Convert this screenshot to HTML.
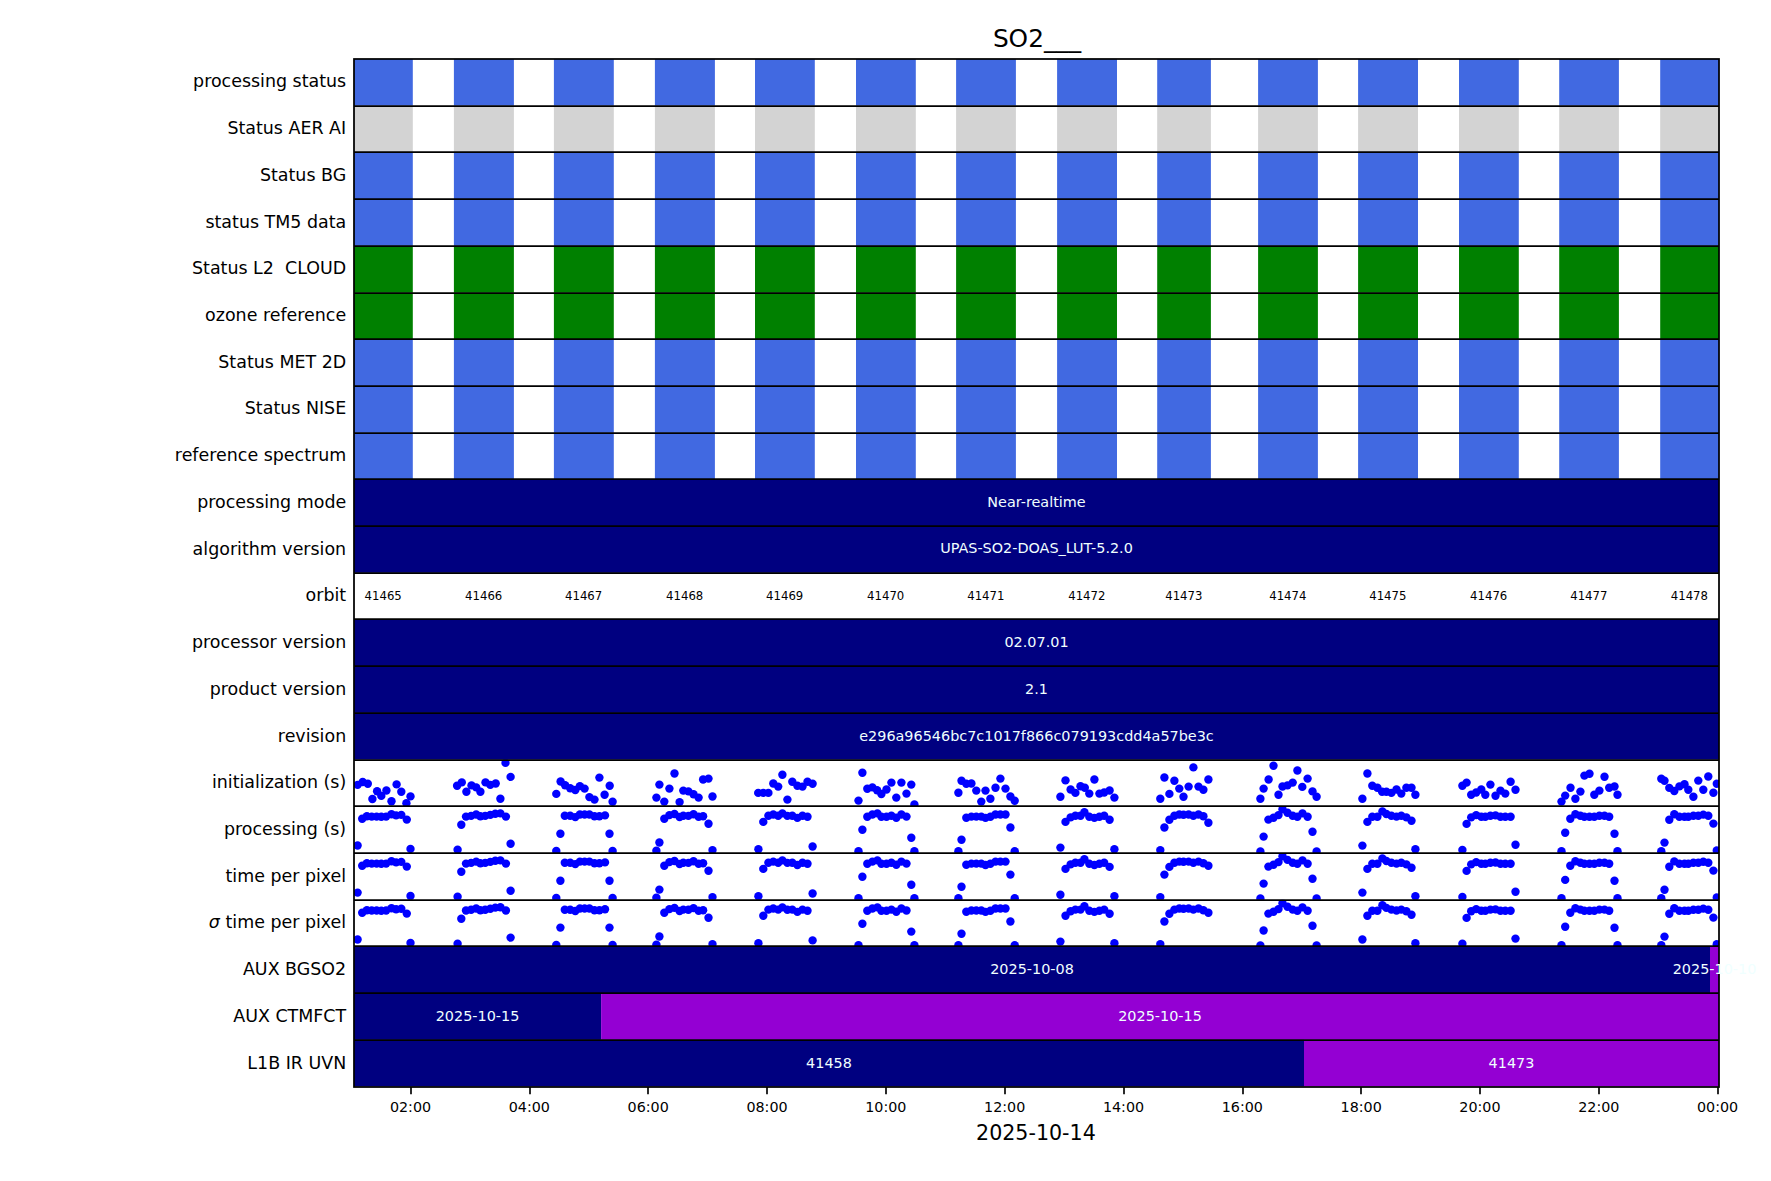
<!DOCTYPE html>
<html lang="en"><head><meta charset="utf-8"><title>SO2___</title>
<style>html,body{margin:0;padding:0;background:#fff}body{width:1771px;height:1181px;overflow:hidden}svg{display:block}text{font-family:"DejaVu Sans","Liberation Sans",sans-serif;}</style></head><body>
<svg width="1771" height="1181" viewBox="0 0 1771 1181">
<rect width="1771" height="1181" fill="#fff"/>
<defs>
<clipPath id="c15"><rect x="354.00" y="759.60" width="1365.00" height="46.70"/></clipPath>
<clipPath id="c16"><rect x="354.00" y="806.30" width="1365.00" height="46.70"/></clipPath>
<clipPath id="c17"><rect x="354.00" y="853.00" width="1365.00" height="46.70"/></clipPath>
<clipPath id="c18"><rect x="354.00" y="899.71" width="1365.00" height="46.70"/></clipPath>
</defs>
<g fill="#4169e1">
<rect x="354.00" y="59.05" width="58.80" height="46.70"/>
<rect x="453.90" y="59.05" width="60.00" height="46.70"/>
<rect x="553.90" y="59.05" width="59.90" height="46.70"/>
<rect x="654.90" y="59.05" width="60.00" height="46.70"/>
<rect x="755.00" y="59.05" width="59.80" height="46.70"/>
<rect x="856.00" y="59.05" width="59.80" height="46.70"/>
<rect x="956.10" y="59.05" width="59.80" height="46.70"/>
<rect x="1057.10" y="59.05" width="59.90" height="46.70"/>
<rect x="1157.20" y="59.05" width="53.70" height="46.70"/>
<rect x="1258.10" y="59.05" width="59.80" height="46.70"/>
<rect x="1358.10" y="59.05" width="59.90" height="46.70"/>
<rect x="1459.00" y="59.05" width="59.80" height="46.70"/>
<rect x="1559.20" y="59.05" width="59.70" height="46.70"/>
<rect x="1660.20" y="59.05" width="58.80" height="46.70"/>
</g>
<g fill="#d3d3d3">
<rect x="354.00" y="105.75" width="58.80" height="46.70"/>
<rect x="453.90" y="105.75" width="60.00" height="46.70"/>
<rect x="553.90" y="105.75" width="59.90" height="46.70"/>
<rect x="654.90" y="105.75" width="60.00" height="46.70"/>
<rect x="755.00" y="105.75" width="59.80" height="46.70"/>
<rect x="856.00" y="105.75" width="59.80" height="46.70"/>
<rect x="956.10" y="105.75" width="59.80" height="46.70"/>
<rect x="1057.10" y="105.75" width="59.90" height="46.70"/>
<rect x="1157.20" y="105.75" width="53.70" height="46.70"/>
<rect x="1258.10" y="105.75" width="59.80" height="46.70"/>
<rect x="1358.10" y="105.75" width="59.90" height="46.70"/>
<rect x="1459.00" y="105.75" width="59.80" height="46.70"/>
<rect x="1559.20" y="105.75" width="59.70" height="46.70"/>
<rect x="1660.20" y="105.75" width="58.80" height="46.70"/>
</g>
<g fill="#4169e1">
<rect x="354.00" y="152.46" width="58.80" height="46.70"/>
<rect x="453.90" y="152.46" width="60.00" height="46.70"/>
<rect x="553.90" y="152.46" width="59.90" height="46.70"/>
<rect x="654.90" y="152.46" width="60.00" height="46.70"/>
<rect x="755.00" y="152.46" width="59.80" height="46.70"/>
<rect x="856.00" y="152.46" width="59.80" height="46.70"/>
<rect x="956.10" y="152.46" width="59.80" height="46.70"/>
<rect x="1057.10" y="152.46" width="59.90" height="46.70"/>
<rect x="1157.20" y="152.46" width="53.70" height="46.70"/>
<rect x="1258.10" y="152.46" width="59.80" height="46.70"/>
<rect x="1358.10" y="152.46" width="59.90" height="46.70"/>
<rect x="1459.00" y="152.46" width="59.80" height="46.70"/>
<rect x="1559.20" y="152.46" width="59.70" height="46.70"/>
<rect x="1660.20" y="152.46" width="58.80" height="46.70"/>
</g>
<g fill="#4169e1">
<rect x="354.00" y="199.16" width="58.80" height="46.70"/>
<rect x="453.90" y="199.16" width="60.00" height="46.70"/>
<rect x="553.90" y="199.16" width="59.90" height="46.70"/>
<rect x="654.90" y="199.16" width="60.00" height="46.70"/>
<rect x="755.00" y="199.16" width="59.80" height="46.70"/>
<rect x="856.00" y="199.16" width="59.80" height="46.70"/>
<rect x="956.10" y="199.16" width="59.80" height="46.70"/>
<rect x="1057.10" y="199.16" width="59.90" height="46.70"/>
<rect x="1157.20" y="199.16" width="53.70" height="46.70"/>
<rect x="1258.10" y="199.16" width="59.80" height="46.70"/>
<rect x="1358.10" y="199.16" width="59.90" height="46.70"/>
<rect x="1459.00" y="199.16" width="59.80" height="46.70"/>
<rect x="1559.20" y="199.16" width="59.70" height="46.70"/>
<rect x="1660.20" y="199.16" width="58.80" height="46.70"/>
</g>
<g fill="#008000">
<rect x="354.00" y="245.86" width="58.80" height="46.70"/>
<rect x="453.90" y="245.86" width="60.00" height="46.70"/>
<rect x="553.90" y="245.86" width="59.90" height="46.70"/>
<rect x="654.90" y="245.86" width="60.00" height="46.70"/>
<rect x="755.00" y="245.86" width="59.80" height="46.70"/>
<rect x="856.00" y="245.86" width="59.80" height="46.70"/>
<rect x="956.10" y="245.86" width="59.80" height="46.70"/>
<rect x="1057.10" y="245.86" width="59.90" height="46.70"/>
<rect x="1157.20" y="245.86" width="53.70" height="46.70"/>
<rect x="1258.10" y="245.86" width="59.80" height="46.70"/>
<rect x="1358.10" y="245.86" width="59.90" height="46.70"/>
<rect x="1459.00" y="245.86" width="59.80" height="46.70"/>
<rect x="1559.20" y="245.86" width="59.70" height="46.70"/>
<rect x="1660.20" y="245.86" width="58.80" height="46.70"/>
</g>
<g fill="#008000">
<rect x="354.00" y="292.57" width="58.80" height="46.70"/>
<rect x="453.90" y="292.57" width="60.00" height="46.70"/>
<rect x="553.90" y="292.57" width="59.90" height="46.70"/>
<rect x="654.90" y="292.57" width="60.00" height="46.70"/>
<rect x="755.00" y="292.57" width="59.80" height="46.70"/>
<rect x="856.00" y="292.57" width="59.80" height="46.70"/>
<rect x="956.10" y="292.57" width="59.80" height="46.70"/>
<rect x="1057.10" y="292.57" width="59.90" height="46.70"/>
<rect x="1157.20" y="292.57" width="53.70" height="46.70"/>
<rect x="1258.10" y="292.57" width="59.80" height="46.70"/>
<rect x="1358.10" y="292.57" width="59.90" height="46.70"/>
<rect x="1459.00" y="292.57" width="59.80" height="46.70"/>
<rect x="1559.20" y="292.57" width="59.70" height="46.70"/>
<rect x="1660.20" y="292.57" width="58.80" height="46.70"/>
</g>
<g fill="#4169e1">
<rect x="354.00" y="339.27" width="58.80" height="46.70"/>
<rect x="453.90" y="339.27" width="60.00" height="46.70"/>
<rect x="553.90" y="339.27" width="59.90" height="46.70"/>
<rect x="654.90" y="339.27" width="60.00" height="46.70"/>
<rect x="755.00" y="339.27" width="59.80" height="46.70"/>
<rect x="856.00" y="339.27" width="59.80" height="46.70"/>
<rect x="956.10" y="339.27" width="59.80" height="46.70"/>
<rect x="1057.10" y="339.27" width="59.90" height="46.70"/>
<rect x="1157.20" y="339.27" width="53.70" height="46.70"/>
<rect x="1258.10" y="339.27" width="59.80" height="46.70"/>
<rect x="1358.10" y="339.27" width="59.90" height="46.70"/>
<rect x="1459.00" y="339.27" width="59.80" height="46.70"/>
<rect x="1559.20" y="339.27" width="59.70" height="46.70"/>
<rect x="1660.20" y="339.27" width="58.80" height="46.70"/>
</g>
<g fill="#4169e1">
<rect x="354.00" y="385.97" width="58.80" height="46.70"/>
<rect x="453.90" y="385.97" width="60.00" height="46.70"/>
<rect x="553.90" y="385.97" width="59.90" height="46.70"/>
<rect x="654.90" y="385.97" width="60.00" height="46.70"/>
<rect x="755.00" y="385.97" width="59.80" height="46.70"/>
<rect x="856.00" y="385.97" width="59.80" height="46.70"/>
<rect x="956.10" y="385.97" width="59.80" height="46.70"/>
<rect x="1057.10" y="385.97" width="59.90" height="46.70"/>
<rect x="1157.20" y="385.97" width="53.70" height="46.70"/>
<rect x="1258.10" y="385.97" width="59.80" height="46.70"/>
<rect x="1358.10" y="385.97" width="59.90" height="46.70"/>
<rect x="1459.00" y="385.97" width="59.80" height="46.70"/>
<rect x="1559.20" y="385.97" width="59.70" height="46.70"/>
<rect x="1660.20" y="385.97" width="58.80" height="46.70"/>
</g>
<g fill="#4169e1">
<rect x="354.00" y="432.68" width="58.80" height="46.70"/>
<rect x="453.90" y="432.68" width="60.00" height="46.70"/>
<rect x="553.90" y="432.68" width="59.90" height="46.70"/>
<rect x="654.90" y="432.68" width="60.00" height="46.70"/>
<rect x="755.00" y="432.68" width="59.80" height="46.70"/>
<rect x="856.00" y="432.68" width="59.80" height="46.70"/>
<rect x="956.10" y="432.68" width="59.80" height="46.70"/>
<rect x="1057.10" y="432.68" width="59.90" height="46.70"/>
<rect x="1157.20" y="432.68" width="53.70" height="46.70"/>
<rect x="1258.10" y="432.68" width="59.80" height="46.70"/>
<rect x="1358.10" y="432.68" width="59.90" height="46.70"/>
<rect x="1459.00" y="432.68" width="59.80" height="46.70"/>
<rect x="1559.20" y="432.68" width="59.70" height="46.70"/>
<rect x="1660.20" y="432.68" width="58.80" height="46.70"/>
</g>
<rect x="354.00" y="479.38" width="1365.00" height="46.70" fill="#000080"/>
<rect x="354.00" y="526.08" width="1365.00" height="46.70" fill="#000080"/>
<rect x="354.00" y="619.49" width="1365.00" height="46.70" fill="#000080"/>
<rect x="354.00" y="666.19" width="1365.00" height="46.70" fill="#000080"/>
<rect x="354.00" y="712.89" width="1365.00" height="46.70" fill="#000080"/>
<rect x="354.00" y="946.41" width="1356.00" height="46.70" fill="#000080"/>
<rect x="1710.00" y="946.41" width="9.00" height="46.70" fill="#9400d3"/>
<rect x="354.00" y="993.11" width="247.10" height="46.70" fill="#000080"/>
<rect x="601.10" y="993.11" width="1117.90" height="46.70" fill="#9400d3"/>
<rect x="354.00" y="1039.82" width="950.00" height="46.70" fill="#000080"/>
<rect x="1304.00" y="1039.82" width="415.00" height="46.70" fill="#9400d3"/>
<g fill="#0000ff" clip-path="url(#c15)">
<circle cx="357.6" cy="784.9" r="4.2"/>
<circle cx="362.7" cy="782.0" r="4.2"/>
<circle cx="367.8" cy="783.7" r="4.2"/>
<circle cx="372.4" cy="799.0" r="4.2"/>
<circle cx="377.1" cy="791.3" r="4.2"/>
<circle cx="381.3" cy="795.9" r="4.2"/>
<circle cx="386.4" cy="790.5" r="4.2"/>
<circle cx="391.5" cy="801.3" r="4.2"/>
<circle cx="396.6" cy="784.4" r="4.2"/>
<circle cx="401.3" cy="791.7" r="4.2"/>
<circle cx="406.4" cy="803.2" r="4.2"/>
<circle cx="410.5" cy="796.4" r="4.2"/>
<circle cx="457.1" cy="785.7" r="4.2"/>
<circle cx="461.8" cy="782.4" r="4.2"/>
<circle cx="466.4" cy="791.7" r="4.2"/>
<circle cx="471.5" cy="785.4" r="4.2"/>
<circle cx="476.2" cy="787.4" r="4.2"/>
<circle cx="480.4" cy="791.7" r="4.2"/>
<circle cx="485.5" cy="782.4" r="4.2"/>
<circle cx="490.3" cy="784.9" r="4.2"/>
<circle cx="495.7" cy="783.5" r="4.2"/>
<circle cx="500.4" cy="798.8" r="4.2"/>
<circle cx="505.5" cy="762.9" r="4.2"/>
<circle cx="510.6" cy="776.9" r="4.2"/>
<circle cx="556.3" cy="793.9" r="4.2"/>
<circle cx="560.6" cy="781.5" r="4.2"/>
<circle cx="565.1" cy="785.2" r="4.2"/>
<circle cx="570.2" cy="788.3" r="4.2"/>
<circle cx="575.3" cy="790.0" r="4.2"/>
<circle cx="579.9" cy="786.1" r="4.2"/>
<circle cx="584.6" cy="788.6" r="4.2"/>
<circle cx="589.4" cy="797.1" r="4.2"/>
<circle cx="594.5" cy="799.6" r="4.2"/>
<circle cx="599.4" cy="777.6" r="4.2"/>
<circle cx="604.6" cy="794.7" r="4.2"/>
<circle cx="609.7" cy="785.7" r="4.2"/>
<circle cx="612.6" cy="801.8" r="4.2"/>
<circle cx="656.4" cy="797.6" r="4.2"/>
<circle cx="659.4" cy="784.6" r="4.2"/>
<circle cx="664.3" cy="801.6" r="4.2"/>
<circle cx="669.4" cy="788.6" r="4.2"/>
<circle cx="674.5" cy="773.5" r="4.2"/>
<circle cx="679.6" cy="802.1" r="4.2"/>
<circle cx="683.3" cy="790.6" r="4.2"/>
<circle cx="688.4" cy="791.4" r="4.2"/>
<circle cx="693.5" cy="794.2" r="4.2"/>
<circle cx="698.6" cy="797.6" r="4.2"/>
<circle cx="703.1" cy="779.5" r="4.2"/>
<circle cx="708.5" cy="778.6" r="4.2"/>
<circle cx="712.5" cy="796.5" r="4.2"/>
<circle cx="758.2" cy="792.9" r="4.2"/>
<circle cx="763.3" cy="792.9" r="4.2"/>
<circle cx="768.4" cy="792.9" r="4.2"/>
<circle cx="773.3" cy="783.5" r="4.2"/>
<circle cx="778.2" cy="786.6" r="4.2"/>
<circle cx="782.4" cy="774.7" r="4.2"/>
<circle cx="787.4" cy="799.6" r="4.2"/>
<circle cx="792.3" cy="781.8" r="4.2"/>
<circle cx="797.4" cy="785.7" r="4.2"/>
<circle cx="802.5" cy="786.6" r="4.2"/>
<circle cx="807.5" cy="781.8" r="4.2"/>
<circle cx="812.6" cy="783.7" r="4.2"/>
<circle cx="858.5" cy="800.6" r="4.2"/>
<circle cx="862.4" cy="772.8" r="4.2"/>
<circle cx="867.3" cy="788.8" r="4.2"/>
<circle cx="872.4" cy="787.4" r="4.2"/>
<circle cx="877.1" cy="790.3" r="4.2"/>
<circle cx="881.4" cy="794.0" r="4.2"/>
<circle cx="886.5" cy="789.5" r="4.2"/>
<circle cx="891.4" cy="782.6" r="4.2"/>
<circle cx="896.3" cy="797.6" r="4.2"/>
<circle cx="901.4" cy="782.6" r="4.2"/>
<circle cx="906.5" cy="793.6" r="4.2"/>
<circle cx="911.3" cy="784.6" r="4.2"/>
<circle cx="914.4" cy="804.4" r="4.2"/>
<circle cx="958.4" cy="792.7" r="4.2"/>
<circle cx="961.5" cy="780.7" r="4.2"/>
<circle cx="966.3" cy="783.8" r="4.2"/>
<circle cx="971.4" cy="783.5" r="4.2"/>
<circle cx="976.3" cy="790.6" r="4.2"/>
<circle cx="981.3" cy="801.6" r="4.2"/>
<circle cx="985.5" cy="790.6" r="4.2"/>
<circle cx="990.4" cy="798.7" r="4.2"/>
<circle cx="995.5" cy="787.8" r="4.2"/>
<circle cx="1000.4" cy="778.6" r="4.2"/>
<circle cx="1005.5" cy="788.6" r="4.2"/>
<circle cx="1010.4" cy="796.5" r="4.2"/>
<circle cx="1014.7" cy="800.8" r="4.2"/>
<circle cx="1060.4" cy="796.7" r="4.2"/>
<circle cx="1065.5" cy="780.4" r="4.2"/>
<circle cx="1070.6" cy="789.5" r="4.2"/>
<circle cx="1075.4" cy="792.9" r="4.2"/>
<circle cx="1080.5" cy="786.3" r="4.2"/>
<circle cx="1084.8" cy="787.7" r="4.2"/>
<circle cx="1089.3" cy="793.6" r="4.2"/>
<circle cx="1094.4" cy="779.5" r="4.2"/>
<circle cx="1099.4" cy="793.6" r="4.2"/>
<circle cx="1104.2" cy="792.5" r="4.2"/>
<circle cx="1109.6" cy="790.5" r="4.2"/>
<circle cx="1114.4" cy="797.6" r="4.2"/>
<circle cx="1160.3" cy="798.7" r="4.2"/>
<circle cx="1164.4" cy="777.5" r="4.2"/>
<circle cx="1169.4" cy="793.9" r="4.2"/>
<circle cx="1174.4" cy="780.7" r="4.2"/>
<circle cx="1179.3" cy="788.6" r="4.2"/>
<circle cx="1183.5" cy="796.7" r="4.2"/>
<circle cx="1188.6" cy="786.6" r="4.2"/>
<circle cx="1193.4" cy="767.4" r="4.2"/>
<circle cx="1198.5" cy="786.6" r="4.2"/>
<circle cx="1203.4" cy="789.7" r="4.2"/>
<circle cx="1208.4" cy="779.5" r="4.2"/>
<circle cx="1260.4" cy="798.7" r="4.2"/>
<circle cx="1263.6" cy="788.6" r="4.2"/>
<circle cx="1268.6" cy="779.5" r="4.2"/>
<circle cx="1273.5" cy="765.8" r="4.2"/>
<circle cx="1278.5" cy="794.8" r="4.2"/>
<circle cx="1282.5" cy="786.5" r="4.2"/>
<circle cx="1287.5" cy="785.4" r="4.2"/>
<circle cx="1292.7" cy="782.6" r="4.2"/>
<circle cx="1297.4" cy="770.5" r="4.2"/>
<circle cx="1302.3" cy="786.9" r="4.2"/>
<circle cx="1307.6" cy="778.6" r="4.2"/>
<circle cx="1312.5" cy="791.4" r="4.2"/>
<circle cx="1316.6" cy="796.7" r="4.2"/>
<circle cx="1362.4" cy="798.7" r="4.2"/>
<circle cx="1367.4" cy="773.5" r="4.2"/>
<circle cx="1372.3" cy="785.7" r="4.2"/>
<circle cx="1377.4" cy="787.7" r="4.2"/>
<circle cx="1382.1" cy="791.7" r="4.2"/>
<circle cx="1386.4" cy="791.7" r="4.2"/>
<circle cx="1391.4" cy="792.9" r="4.2"/>
<circle cx="1396.5" cy="789.5" r="4.2"/>
<circle cx="1401.3" cy="793.6" r="4.2"/>
<circle cx="1406.4" cy="787.7" r="4.2"/>
<circle cx="1411.5" cy="787.7" r="4.2"/>
<circle cx="1415.4" cy="794.8" r="4.2"/>
<circle cx="1462.4" cy="785.7" r="4.2"/>
<circle cx="1466.6" cy="782.6" r="4.2"/>
<circle cx="1471.2" cy="794.8" r="4.2"/>
<circle cx="1476.2" cy="792.5" r="4.2"/>
<circle cx="1481.3" cy="789.5" r="4.2"/>
<circle cx="1485.3" cy="794.8" r="4.2"/>
<circle cx="1490.4" cy="784.6" r="4.2"/>
<circle cx="1495.5" cy="795.7" r="4.2"/>
<circle cx="1500.5" cy="790.6" r="4.2"/>
<circle cx="1505.3" cy="793.6" r="4.2"/>
<circle cx="1510.6" cy="781.8" r="4.2"/>
<circle cx="1515.5" cy="789.7" r="4.2"/>
<circle cx="1561.5" cy="801.6" r="4.2"/>
<circle cx="1565.2" cy="795.6" r="4.2"/>
<circle cx="1570.5" cy="787.7" r="4.2"/>
<circle cx="1575.4" cy="798.7" r="4.2"/>
<circle cx="1580.4" cy="791.6" r="4.2"/>
<circle cx="1584.4" cy="775.6" r="4.2"/>
<circle cx="1589.5" cy="773.7" r="4.2"/>
<circle cx="1594.3" cy="794.8" r="4.2"/>
<circle cx="1599.4" cy="790.6" r="4.2"/>
<circle cx="1604.5" cy="776.7" r="4.2"/>
<circle cx="1609.2" cy="787.7" r="4.2"/>
<circle cx="1614.5" cy="786.5" r="4.2"/>
<circle cx="1617.5" cy="794.8" r="4.2"/>
<circle cx="1661.3" cy="778.7" r="4.2"/>
<circle cx="1664.5" cy="780.8" r="4.2"/>
<circle cx="1669.3" cy="787.9" r="4.2"/>
<circle cx="1674.3" cy="791.0" r="4.2"/>
<circle cx="1679.4" cy="786.4" r="4.2"/>
<circle cx="1684.5" cy="784.2" r="4.2"/>
<circle cx="1688.3" cy="789.7" r="4.2"/>
<circle cx="1693.4" cy="796.8" r="4.2"/>
<circle cx="1698.3" cy="780.6" r="4.2"/>
<circle cx="1703.3" cy="789.7" r="4.2"/>
<circle cx="1708.3" cy="776.5" r="4.2"/>
<circle cx="1713.4" cy="792.7" r="4.2"/>
<circle cx="1716.8" cy="783.7" r="4.2"/>
</g>
<g fill="#0000ff" clip-path="url(#c16)">
<circle cx="357.6" cy="845.5" r="4.2"/>
<circle cx="362.2" cy="818.8" r="4.2"/>
<circle cx="366.9" cy="816.2" r="4.2"/>
<circle cx="371.7" cy="816.6" r="4.2"/>
<circle cx="376.6" cy="816.6" r="4.2"/>
<circle cx="381.3" cy="816.7" r="4.2"/>
<circle cx="386.1" cy="816.6" r="4.2"/>
<circle cx="391.5" cy="814.2" r="4.2"/>
<circle cx="396.1" cy="815.4" r="4.2"/>
<circle cx="401.3" cy="814.9" r="4.2"/>
<circle cx="406.8" cy="819.6" r="4.2"/>
<circle cx="410.5" cy="848.9" r="4.2"/>
<circle cx="457.6" cy="849.8" r="4.2"/>
<circle cx="461.3" cy="824.7" r="4.2"/>
<circle cx="466.0" cy="816.6" r="4.2"/>
<circle cx="471.1" cy="815.9" r="4.2"/>
<circle cx="476.2" cy="814.5" r="4.2"/>
<circle cx="480.4" cy="816.2" r="4.2"/>
<circle cx="485.2" cy="815.9" r="4.2"/>
<circle cx="490.3" cy="814.9" r="4.2"/>
<circle cx="495.3" cy="813.7" r="4.2"/>
<circle cx="500.4" cy="813.4" r="4.2"/>
<circle cx="505.9" cy="816.6" r="4.2"/>
<circle cx="510.6" cy="843.7" r="4.2"/>
<circle cx="556.3" cy="851.0" r="4.2"/>
<circle cx="560.4" cy="833.7" r="4.2"/>
<circle cx="564.8" cy="815.7" r="4.2"/>
<circle cx="570.2" cy="815.7" r="4.2"/>
<circle cx="575.3" cy="817.1" r="4.2"/>
<circle cx="579.9" cy="814.5" r="4.2"/>
<circle cx="584.6" cy="814.5" r="4.2"/>
<circle cx="589.4" cy="814.5" r="4.2"/>
<circle cx="594.5" cy="816.2" r="4.2"/>
<circle cx="599.4" cy="816.2" r="4.2"/>
<circle cx="605.0" cy="815.4" r="4.2"/>
<circle cx="609.5" cy="833.7" r="4.2"/>
<circle cx="612.6" cy="851.0" r="4.2"/>
<circle cx="656.4" cy="850.7" r="4.2"/>
<circle cx="659.4" cy="842.5" r="4.2"/>
<circle cx="664.3" cy="818.7" r="4.2"/>
<circle cx="669.4" cy="815.1" r="4.2"/>
<circle cx="674.5" cy="814.0" r="4.2"/>
<circle cx="679.6" cy="817.0" r="4.2"/>
<circle cx="683.3" cy="815.7" r="4.2"/>
<circle cx="688.4" cy="815.9" r="4.2"/>
<circle cx="693.5" cy="814.2" r="4.2"/>
<circle cx="698.6" cy="816.8" r="4.2"/>
<circle cx="703.1" cy="816.2" r="4.2"/>
<circle cx="708.5" cy="823.8" r="4.2"/>
<circle cx="712.5" cy="850.1" r="4.2"/>
<circle cx="758.4" cy="849.3" r="4.2"/>
<circle cx="763.3" cy="821.9" r="4.2"/>
<circle cx="768.4" cy="815.7" r="4.2"/>
<circle cx="773.3" cy="814.5" r="4.2"/>
<circle cx="778.2" cy="815.7" r="4.2"/>
<circle cx="782.4" cy="813.4" r="4.2"/>
<circle cx="787.4" cy="815.9" r="4.2"/>
<circle cx="792.3" cy="815.7" r="4.2"/>
<circle cx="797.4" cy="817.9" r="4.2"/>
<circle cx="802.5" cy="815.7" r="4.2"/>
<circle cx="807.5" cy="816.8" r="4.2"/>
<circle cx="812.6" cy="846.5" r="4.2"/>
<circle cx="858.5" cy="851.2" r="4.2"/>
<circle cx="862.4" cy="829.8" r="4.2"/>
<circle cx="867.3" cy="816.8" r="4.2"/>
<circle cx="872.4" cy="814.5" r="4.2"/>
<circle cx="877.4" cy="813.4" r="4.2"/>
<circle cx="881.4" cy="816.8" r="4.2"/>
<circle cx="886.5" cy="816.8" r="4.2"/>
<circle cx="891.4" cy="815.7" r="4.2"/>
<circle cx="896.3" cy="817.7" r="4.2"/>
<circle cx="901.4" cy="814.5" r="4.2"/>
<circle cx="906.5" cy="816.6" r="4.2"/>
<circle cx="911.3" cy="837.7" r="4.2"/>
<circle cx="914.4" cy="851.2" r="4.2"/>
<circle cx="958.4" cy="851.2" r="4.2"/>
<circle cx="961.5" cy="839.7" r="4.2"/>
<circle cx="966.3" cy="817.7" r="4.2"/>
<circle cx="971.4" cy="816.6" r="4.2"/>
<circle cx="976.3" cy="816.6" r="4.2"/>
<circle cx="981.3" cy="816.6" r="4.2"/>
<circle cx="985.5" cy="817.9" r="4.2"/>
<circle cx="990.4" cy="816.8" r="4.2"/>
<circle cx="995.5" cy="814.5" r="4.2"/>
<circle cx="1000.4" cy="814.5" r="4.2"/>
<circle cx="1005.5" cy="814.5" r="4.2"/>
<circle cx="1010.4" cy="827.5" r="4.2"/>
<circle cx="1014.7" cy="851.2" r="4.2"/>
<circle cx="1060.4" cy="847.6" r="4.2"/>
<circle cx="1065.5" cy="821.9" r="4.2"/>
<circle cx="1070.6" cy="817.4" r="4.2"/>
<circle cx="1075.4" cy="815.7" r="4.2"/>
<circle cx="1080.5" cy="815.7" r="4.2"/>
<circle cx="1084.4" cy="812.3" r="4.2"/>
<circle cx="1089.3" cy="816.8" r="4.2"/>
<circle cx="1094.4" cy="817.9" r="4.2"/>
<circle cx="1099.4" cy="816.8" r="4.2"/>
<circle cx="1104.2" cy="815.7" r="4.2"/>
<circle cx="1109.6" cy="819.8" r="4.2"/>
<circle cx="1114.4" cy="849.3" r="4.2"/>
<circle cx="1160.3" cy="850.1" r="4.2"/>
<circle cx="1164.4" cy="827.5" r="4.2"/>
<circle cx="1169.4" cy="819.8" r="4.2"/>
<circle cx="1174.4" cy="815.7" r="4.2"/>
<circle cx="1179.3" cy="814.5" r="4.2"/>
<circle cx="1183.5" cy="814.8" r="4.2"/>
<circle cx="1188.6" cy="814.5" r="4.2"/>
<circle cx="1193.4" cy="815.7" r="4.2"/>
<circle cx="1198.5" cy="814.5" r="4.2"/>
<circle cx="1203.4" cy="816.2" r="4.2"/>
<circle cx="1208.4" cy="822.8" r="4.2"/>
<circle cx="1260.4" cy="851.5" r="4.2"/>
<circle cx="1263.6" cy="836.6" r="4.2"/>
<circle cx="1268.4" cy="819.6" r="4.2"/>
<circle cx="1273.5" cy="817.7" r="4.2"/>
<circle cx="1278.5" cy="815.1" r="4.2"/>
<circle cx="1282.5" cy="809.2" r="4.2"/>
<circle cx="1287.5" cy="812.8" r="4.2"/>
<circle cx="1292.7" cy="815.7" r="4.2"/>
<circle cx="1297.4" cy="816.8" r="4.2"/>
<circle cx="1302.5" cy="813.4" r="4.2"/>
<circle cx="1307.6" cy="816.8" r="4.2"/>
<circle cx="1312.5" cy="831.7" r="4.2"/>
<circle cx="1316.6" cy="851.5" r="4.2"/>
<circle cx="1362.4" cy="845.6" r="4.2"/>
<circle cx="1367.4" cy="821.9" r="4.2"/>
<circle cx="1372.3" cy="816.8" r="4.2"/>
<circle cx="1377.4" cy="816.8" r="4.2"/>
<circle cx="1382.4" cy="811.4" r="4.2"/>
<circle cx="1386.4" cy="814.0" r="4.2"/>
<circle cx="1391.4" cy="815.7" r="4.2"/>
<circle cx="1396.5" cy="816.6" r="4.2"/>
<circle cx="1401.3" cy="815.7" r="4.2"/>
<circle cx="1406.4" cy="817.4" r="4.2"/>
<circle cx="1411.5" cy="820.7" r="4.2"/>
<circle cx="1415.4" cy="849.3" r="4.2"/>
<circle cx="1462.4" cy="849.9" r="4.2"/>
<circle cx="1466.6" cy="823.9" r="4.2"/>
<circle cx="1471.2" cy="817.4" r="4.2"/>
<circle cx="1476.2" cy="815.1" r="4.2"/>
<circle cx="1481.3" cy="816.8" r="4.2"/>
<circle cx="1485.3" cy="816.8" r="4.2"/>
<circle cx="1490.4" cy="815.7" r="4.2"/>
<circle cx="1495.5" cy="815.4" r="4.2"/>
<circle cx="1500.5" cy="816.8" r="4.2"/>
<circle cx="1505.3" cy="816.8" r="4.2"/>
<circle cx="1510.6" cy="816.8" r="4.2"/>
<circle cx="1515.5" cy="844.7" r="4.2"/>
<circle cx="1561.5" cy="851.2" r="4.2"/>
<circle cx="1565.2" cy="832.8" r="4.2"/>
<circle cx="1570.3" cy="818.7" r="4.2"/>
<circle cx="1575.4" cy="814.3" r="4.2"/>
<circle cx="1580.4" cy="815.7" r="4.2"/>
<circle cx="1584.4" cy="816.8" r="4.2"/>
<circle cx="1589.5" cy="816.8" r="4.2"/>
<circle cx="1594.3" cy="816.8" r="4.2"/>
<circle cx="1599.4" cy="815.7" r="4.2"/>
<circle cx="1604.5" cy="815.7" r="4.2"/>
<circle cx="1609.2" cy="816.8" r="4.2"/>
<circle cx="1614.5" cy="833.7" r="4.2"/>
<circle cx="1617.5" cy="851.2" r="4.2"/>
<circle cx="1661.3" cy="851.3" r="4.2"/>
<circle cx="1664.5" cy="842.6" r="4.2"/>
<circle cx="1669.3" cy="819.7" r="4.2"/>
<circle cx="1674.3" cy="814.3" r="4.2"/>
<circle cx="1679.4" cy="816.8" r="4.2"/>
<circle cx="1684.5" cy="816.8" r="4.2"/>
<circle cx="1688.3" cy="816.8" r="4.2"/>
<circle cx="1693.4" cy="815.8" r="4.2"/>
<circle cx="1698.3" cy="815.8" r="4.2"/>
<circle cx="1703.3" cy="814.6" r="4.2"/>
<circle cx="1708.3" cy="815.8" r="4.2"/>
<circle cx="1713.4" cy="823.6" r="4.2"/>
<circle cx="1716.8" cy="850.4" r="4.2"/>
</g>
<g fill="#0000ff" clip-path="url(#c17)">
<circle cx="357.6" cy="892.6" r="4.2"/>
<circle cx="362.2" cy="865.8" r="4.2"/>
<circle cx="366.9" cy="863.3" r="4.2"/>
<circle cx="371.7" cy="863.6" r="4.2"/>
<circle cx="376.6" cy="863.6" r="4.2"/>
<circle cx="381.3" cy="863.8" r="4.2"/>
<circle cx="386.1" cy="863.6" r="4.2"/>
<circle cx="391.5" cy="861.2" r="4.2"/>
<circle cx="396.1" cy="862.4" r="4.2"/>
<circle cx="401.3" cy="861.9" r="4.2"/>
<circle cx="406.8" cy="866.6" r="4.2"/>
<circle cx="410.5" cy="896.0" r="4.2"/>
<circle cx="457.6" cy="896.8" r="4.2"/>
<circle cx="461.3" cy="871.7" r="4.2"/>
<circle cx="466.0" cy="863.6" r="4.2"/>
<circle cx="471.1" cy="862.9" r="4.2"/>
<circle cx="476.2" cy="861.6" r="4.2"/>
<circle cx="480.4" cy="863.3" r="4.2"/>
<circle cx="485.2" cy="862.9" r="4.2"/>
<circle cx="490.3" cy="861.9" r="4.2"/>
<circle cx="495.3" cy="860.7" r="4.2"/>
<circle cx="500.4" cy="860.4" r="4.2"/>
<circle cx="505.9" cy="863.6" r="4.2"/>
<circle cx="510.6" cy="890.7" r="4.2"/>
<circle cx="556.3" cy="898.0" r="4.2"/>
<circle cx="560.4" cy="880.7" r="4.2"/>
<circle cx="564.8" cy="862.8" r="4.2"/>
<circle cx="570.2" cy="862.8" r="4.2"/>
<circle cx="575.3" cy="864.1" r="4.2"/>
<circle cx="579.9" cy="861.6" r="4.2"/>
<circle cx="584.6" cy="861.6" r="4.2"/>
<circle cx="589.4" cy="861.6" r="4.2"/>
<circle cx="594.5" cy="863.3" r="4.2"/>
<circle cx="599.4" cy="863.3" r="4.2"/>
<circle cx="605.0" cy="862.4" r="4.2"/>
<circle cx="609.5" cy="880.7" r="4.2"/>
<circle cx="612.6" cy="898.0" r="4.2"/>
<circle cx="656.4" cy="897.7" r="4.2"/>
<circle cx="659.4" cy="889.6" r="4.2"/>
<circle cx="664.3" cy="865.7" r="4.2"/>
<circle cx="669.4" cy="862.1" r="4.2"/>
<circle cx="674.5" cy="861.0" r="4.2"/>
<circle cx="679.6" cy="864.0" r="4.2"/>
<circle cx="683.3" cy="862.7" r="4.2"/>
<circle cx="688.4" cy="862.9" r="4.2"/>
<circle cx="693.5" cy="861.2" r="4.2"/>
<circle cx="698.6" cy="863.8" r="4.2"/>
<circle cx="703.1" cy="863.3" r="4.2"/>
<circle cx="708.5" cy="870.8" r="4.2"/>
<circle cx="712.5" cy="897.1" r="4.2"/>
<circle cx="758.4" cy="896.3" r="4.2"/>
<circle cx="763.3" cy="868.9" r="4.2"/>
<circle cx="768.4" cy="862.7" r="4.2"/>
<circle cx="773.3" cy="861.6" r="4.2"/>
<circle cx="778.2" cy="862.7" r="4.2"/>
<circle cx="782.4" cy="860.4" r="4.2"/>
<circle cx="787.4" cy="862.9" r="4.2"/>
<circle cx="792.3" cy="862.7" r="4.2"/>
<circle cx="797.4" cy="865.0" r="4.2"/>
<circle cx="802.5" cy="862.7" r="4.2"/>
<circle cx="807.5" cy="863.8" r="4.2"/>
<circle cx="812.6" cy="893.5" r="4.2"/>
<circle cx="858.5" cy="898.3" r="4.2"/>
<circle cx="862.4" cy="876.8" r="4.2"/>
<circle cx="867.3" cy="863.8" r="4.2"/>
<circle cx="872.4" cy="861.6" r="4.2"/>
<circle cx="877.4" cy="860.4" r="4.2"/>
<circle cx="881.4" cy="863.8" r="4.2"/>
<circle cx="886.5" cy="863.8" r="4.2"/>
<circle cx="891.4" cy="862.7" r="4.2"/>
<circle cx="896.3" cy="864.7" r="4.2"/>
<circle cx="901.4" cy="861.6" r="4.2"/>
<circle cx="906.5" cy="863.6" r="4.2"/>
<circle cx="911.3" cy="884.7" r="4.2"/>
<circle cx="914.4" cy="898.3" r="4.2"/>
<circle cx="958.4" cy="898.3" r="4.2"/>
<circle cx="961.5" cy="886.7" r="4.2"/>
<circle cx="966.3" cy="864.7" r="4.2"/>
<circle cx="971.4" cy="863.6" r="4.2"/>
<circle cx="976.3" cy="863.6" r="4.2"/>
<circle cx="981.3" cy="863.6" r="4.2"/>
<circle cx="985.5" cy="865.0" r="4.2"/>
<circle cx="990.4" cy="863.8" r="4.2"/>
<circle cx="995.5" cy="861.6" r="4.2"/>
<circle cx="1000.4" cy="861.6" r="4.2"/>
<circle cx="1005.5" cy="861.6" r="4.2"/>
<circle cx="1010.4" cy="874.6" r="4.2"/>
<circle cx="1014.7" cy="898.3" r="4.2"/>
<circle cx="1060.4" cy="894.7" r="4.2"/>
<circle cx="1065.5" cy="868.9" r="4.2"/>
<circle cx="1070.6" cy="864.4" r="4.2"/>
<circle cx="1075.4" cy="862.7" r="4.2"/>
<circle cx="1080.5" cy="862.7" r="4.2"/>
<circle cx="1084.4" cy="859.3" r="4.2"/>
<circle cx="1089.3" cy="863.8" r="4.2"/>
<circle cx="1094.4" cy="865.0" r="4.2"/>
<circle cx="1099.4" cy="863.8" r="4.2"/>
<circle cx="1104.2" cy="862.7" r="4.2"/>
<circle cx="1109.6" cy="866.9" r="4.2"/>
<circle cx="1114.4" cy="896.3" r="4.2"/>
<circle cx="1160.3" cy="897.1" r="4.2"/>
<circle cx="1164.4" cy="874.6" r="4.2"/>
<circle cx="1169.4" cy="866.9" r="4.2"/>
<circle cx="1174.4" cy="862.7" r="4.2"/>
<circle cx="1179.3" cy="861.6" r="4.2"/>
<circle cx="1183.5" cy="861.8" r="4.2"/>
<circle cx="1188.6" cy="861.6" r="4.2"/>
<circle cx="1193.4" cy="862.7" r="4.2"/>
<circle cx="1198.5" cy="861.6" r="4.2"/>
<circle cx="1203.4" cy="863.3" r="4.2"/>
<circle cx="1208.4" cy="865.8" r="4.2"/>
<circle cx="1260.4" cy="898.5" r="4.2"/>
<circle cx="1263.6" cy="883.6" r="4.2"/>
<circle cx="1268.4" cy="866.6" r="4.2"/>
<circle cx="1273.5" cy="864.7" r="4.2"/>
<circle cx="1278.5" cy="862.1" r="4.2"/>
<circle cx="1282.5" cy="856.3" r="4.2"/>
<circle cx="1287.5" cy="859.9" r="4.2"/>
<circle cx="1292.7" cy="862.7" r="4.2"/>
<circle cx="1297.4" cy="863.8" r="4.2"/>
<circle cx="1302.5" cy="860.4" r="4.2"/>
<circle cx="1307.6" cy="863.8" r="4.2"/>
<circle cx="1312.5" cy="878.7" r="4.2"/>
<circle cx="1316.6" cy="898.5" r="4.2"/>
<circle cx="1362.4" cy="892.6" r="4.2"/>
<circle cx="1367.4" cy="868.9" r="4.2"/>
<circle cx="1372.3" cy="863.8" r="4.2"/>
<circle cx="1377.4" cy="863.8" r="4.2"/>
<circle cx="1382.4" cy="858.4" r="4.2"/>
<circle cx="1386.4" cy="861.0" r="4.2"/>
<circle cx="1391.4" cy="862.7" r="4.2"/>
<circle cx="1396.5" cy="863.6" r="4.2"/>
<circle cx="1401.3" cy="862.7" r="4.2"/>
<circle cx="1406.4" cy="864.4" r="4.2"/>
<circle cx="1411.5" cy="867.8" r="4.2"/>
<circle cx="1415.4" cy="896.3" r="4.2"/>
<circle cx="1462.4" cy="896.9" r="4.2"/>
<circle cx="1466.6" cy="870.9" r="4.2"/>
<circle cx="1471.2" cy="864.4" r="4.2"/>
<circle cx="1476.2" cy="862.1" r="4.2"/>
<circle cx="1481.3" cy="863.8" r="4.2"/>
<circle cx="1485.3" cy="863.8" r="4.2"/>
<circle cx="1490.4" cy="862.7" r="4.2"/>
<circle cx="1495.5" cy="862.5" r="4.2"/>
<circle cx="1500.5" cy="863.8" r="4.2"/>
<circle cx="1505.3" cy="863.8" r="4.2"/>
<circle cx="1510.6" cy="863.8" r="4.2"/>
<circle cx="1515.5" cy="891.7" r="4.2"/>
<circle cx="1561.5" cy="898.3" r="4.2"/>
<circle cx="1565.2" cy="879.9" r="4.2"/>
<circle cx="1570.3" cy="865.7" r="4.2"/>
<circle cx="1575.4" cy="861.3" r="4.2"/>
<circle cx="1580.4" cy="862.7" r="4.2"/>
<circle cx="1584.4" cy="863.8" r="4.2"/>
<circle cx="1589.5" cy="863.8" r="4.2"/>
<circle cx="1594.3" cy="863.8" r="4.2"/>
<circle cx="1599.4" cy="862.7" r="4.2"/>
<circle cx="1604.5" cy="862.7" r="4.2"/>
<circle cx="1609.2" cy="863.8" r="4.2"/>
<circle cx="1614.5" cy="880.8" r="4.2"/>
<circle cx="1617.5" cy="898.3" r="4.2"/>
<circle cx="1661.3" cy="898.3" r="4.2"/>
<circle cx="1664.5" cy="889.7" r="4.2"/>
<circle cx="1669.3" cy="866.8" r="4.2"/>
<circle cx="1674.3" cy="861.4" r="4.2"/>
<circle cx="1679.4" cy="863.8" r="4.2"/>
<circle cx="1684.5" cy="863.8" r="4.2"/>
<circle cx="1688.3" cy="863.8" r="4.2"/>
<circle cx="1693.4" cy="862.8" r="4.2"/>
<circle cx="1698.3" cy="862.8" r="4.2"/>
<circle cx="1703.3" cy="861.7" r="4.2"/>
<circle cx="1708.3" cy="862.8" r="4.2"/>
<circle cx="1713.4" cy="870.6" r="4.2"/>
<circle cx="1716.8" cy="897.4" r="4.2"/>
</g>
<g fill="#0000ff" clip-path="url(#c18)">
<circle cx="357.6" cy="939.5" r="4.2"/>
<circle cx="362.2" cy="912.7" r="4.2"/>
<circle cx="366.9" cy="910.2" r="4.2"/>
<circle cx="371.7" cy="910.5" r="4.2"/>
<circle cx="376.6" cy="910.5" r="4.2"/>
<circle cx="381.3" cy="910.7" r="4.2"/>
<circle cx="386.1" cy="910.5" r="4.2"/>
<circle cx="391.5" cy="908.2" r="4.2"/>
<circle cx="396.1" cy="909.3" r="4.2"/>
<circle cx="401.3" cy="908.8" r="4.2"/>
<circle cx="406.8" cy="913.6" r="4.2"/>
<circle cx="410.5" cy="942.9" r="4.2"/>
<circle cx="457.6" cy="943.7" r="4.2"/>
<circle cx="461.3" cy="918.7" r="4.2"/>
<circle cx="466.0" cy="910.5" r="4.2"/>
<circle cx="471.1" cy="909.8" r="4.2"/>
<circle cx="476.2" cy="908.5" r="4.2"/>
<circle cx="480.4" cy="910.2" r="4.2"/>
<circle cx="485.2" cy="909.8" r="4.2"/>
<circle cx="490.3" cy="908.8" r="4.2"/>
<circle cx="495.3" cy="907.6" r="4.2"/>
<circle cx="500.4" cy="907.3" r="4.2"/>
<circle cx="505.9" cy="910.5" r="4.2"/>
<circle cx="510.6" cy="937.6" r="4.2"/>
<circle cx="556.3" cy="944.9" r="4.2"/>
<circle cx="560.4" cy="927.6" r="4.2"/>
<circle cx="564.8" cy="909.7" r="4.2"/>
<circle cx="570.2" cy="909.7" r="4.2"/>
<circle cx="575.3" cy="911.0" r="4.2"/>
<circle cx="579.9" cy="908.5" r="4.2"/>
<circle cx="584.6" cy="908.5" r="4.2"/>
<circle cx="589.4" cy="908.5" r="4.2"/>
<circle cx="594.5" cy="910.2" r="4.2"/>
<circle cx="599.4" cy="910.2" r="4.2"/>
<circle cx="605.0" cy="909.3" r="4.2"/>
<circle cx="609.5" cy="927.6" r="4.2"/>
<circle cx="612.6" cy="944.9" r="4.2"/>
<circle cx="656.4" cy="944.6" r="4.2"/>
<circle cx="659.4" cy="936.5" r="4.2"/>
<circle cx="664.3" cy="912.7" r="4.2"/>
<circle cx="669.4" cy="909.1" r="4.2"/>
<circle cx="674.5" cy="907.9" r="4.2"/>
<circle cx="679.6" cy="911.0" r="4.2"/>
<circle cx="683.3" cy="909.6" r="4.2"/>
<circle cx="688.4" cy="909.8" r="4.2"/>
<circle cx="693.5" cy="908.1" r="4.2"/>
<circle cx="698.6" cy="910.7" r="4.2"/>
<circle cx="703.1" cy="910.2" r="4.2"/>
<circle cx="708.5" cy="917.7" r="4.2"/>
<circle cx="712.5" cy="944.1" r="4.2"/>
<circle cx="758.4" cy="943.3" r="4.2"/>
<circle cx="763.3" cy="915.8" r="4.2"/>
<circle cx="768.4" cy="909.6" r="4.2"/>
<circle cx="773.3" cy="908.5" r="4.2"/>
<circle cx="778.2" cy="909.6" r="4.2"/>
<circle cx="782.4" cy="907.4" r="4.2"/>
<circle cx="787.4" cy="909.8" r="4.2"/>
<circle cx="792.3" cy="909.6" r="4.2"/>
<circle cx="797.4" cy="911.9" r="4.2"/>
<circle cx="802.5" cy="909.6" r="4.2"/>
<circle cx="807.5" cy="910.7" r="4.2"/>
<circle cx="812.6" cy="940.4" r="4.2"/>
<circle cx="858.5" cy="945.2" r="4.2"/>
<circle cx="862.4" cy="923.7" r="4.2"/>
<circle cx="867.3" cy="910.7" r="4.2"/>
<circle cx="872.4" cy="908.5" r="4.2"/>
<circle cx="877.4" cy="907.4" r="4.2"/>
<circle cx="881.4" cy="910.7" r="4.2"/>
<circle cx="886.5" cy="910.7" r="4.2"/>
<circle cx="891.4" cy="909.6" r="4.2"/>
<circle cx="896.3" cy="911.7" r="4.2"/>
<circle cx="901.4" cy="908.5" r="4.2"/>
<circle cx="906.5" cy="910.5" r="4.2"/>
<circle cx="911.3" cy="931.6" r="4.2"/>
<circle cx="914.4" cy="945.2" r="4.2"/>
<circle cx="958.4" cy="945.2" r="4.2"/>
<circle cx="961.5" cy="933.7" r="4.2"/>
<circle cx="966.3" cy="911.7" r="4.2"/>
<circle cx="971.4" cy="910.5" r="4.2"/>
<circle cx="976.3" cy="910.5" r="4.2"/>
<circle cx="981.3" cy="910.5" r="4.2"/>
<circle cx="985.5" cy="911.9" r="4.2"/>
<circle cx="990.4" cy="910.7" r="4.2"/>
<circle cx="995.5" cy="908.5" r="4.2"/>
<circle cx="1000.4" cy="908.5" r="4.2"/>
<circle cx="1005.5" cy="908.5" r="4.2"/>
<circle cx="1010.4" cy="921.5" r="4.2"/>
<circle cx="1014.7" cy="945.2" r="4.2"/>
<circle cx="1060.4" cy="941.6" r="4.2"/>
<circle cx="1065.5" cy="915.8" r="4.2"/>
<circle cx="1070.6" cy="911.3" r="4.2"/>
<circle cx="1075.4" cy="909.6" r="4.2"/>
<circle cx="1080.5" cy="909.6" r="4.2"/>
<circle cx="1084.4" cy="906.2" r="4.2"/>
<circle cx="1089.3" cy="910.7" r="4.2"/>
<circle cx="1094.4" cy="911.9" r="4.2"/>
<circle cx="1099.4" cy="910.7" r="4.2"/>
<circle cx="1104.2" cy="909.6" r="4.2"/>
<circle cx="1109.6" cy="913.8" r="4.2"/>
<circle cx="1114.4" cy="943.3" r="4.2"/>
<circle cx="1160.3" cy="944.1" r="4.2"/>
<circle cx="1164.4" cy="921.5" r="4.2"/>
<circle cx="1169.4" cy="913.8" r="4.2"/>
<circle cx="1174.4" cy="909.6" r="4.2"/>
<circle cx="1179.3" cy="908.5" r="4.2"/>
<circle cx="1183.5" cy="908.7" r="4.2"/>
<circle cx="1188.6" cy="908.5" r="4.2"/>
<circle cx="1193.4" cy="909.6" r="4.2"/>
<circle cx="1198.5" cy="908.5" r="4.2"/>
<circle cx="1203.4" cy="910.2" r="4.2"/>
<circle cx="1208.4" cy="912.7" r="4.2"/>
<circle cx="1260.4" cy="945.4" r="4.2"/>
<circle cx="1263.6" cy="930.5" r="4.2"/>
<circle cx="1268.4" cy="913.6" r="4.2"/>
<circle cx="1273.5" cy="911.7" r="4.2"/>
<circle cx="1278.5" cy="909.1" r="4.2"/>
<circle cx="1282.5" cy="903.2" r="4.2"/>
<circle cx="1287.5" cy="906.8" r="4.2"/>
<circle cx="1292.7" cy="909.6" r="4.2"/>
<circle cx="1297.4" cy="910.7" r="4.2"/>
<circle cx="1302.5" cy="907.4" r="4.2"/>
<circle cx="1307.6" cy="910.7" r="4.2"/>
<circle cx="1312.5" cy="925.7" r="4.2"/>
<circle cx="1316.6" cy="945.4" r="4.2"/>
<circle cx="1362.4" cy="939.5" r="4.2"/>
<circle cx="1367.4" cy="915.8" r="4.2"/>
<circle cx="1372.3" cy="910.7" r="4.2"/>
<circle cx="1377.4" cy="910.7" r="4.2"/>
<circle cx="1382.4" cy="905.3" r="4.2"/>
<circle cx="1386.4" cy="907.9" r="4.2"/>
<circle cx="1391.4" cy="909.6" r="4.2"/>
<circle cx="1396.5" cy="910.5" r="4.2"/>
<circle cx="1401.3" cy="909.6" r="4.2"/>
<circle cx="1406.4" cy="911.3" r="4.2"/>
<circle cx="1411.5" cy="914.7" r="4.2"/>
<circle cx="1415.4" cy="943.3" r="4.2"/>
<circle cx="1462.4" cy="943.8" r="4.2"/>
<circle cx="1466.6" cy="917.9" r="4.2"/>
<circle cx="1471.2" cy="911.3" r="4.2"/>
<circle cx="1476.2" cy="909.1" r="4.2"/>
<circle cx="1481.3" cy="910.7" r="4.2"/>
<circle cx="1485.3" cy="910.7" r="4.2"/>
<circle cx="1490.4" cy="909.6" r="4.2"/>
<circle cx="1495.5" cy="909.4" r="4.2"/>
<circle cx="1500.5" cy="910.7" r="4.2"/>
<circle cx="1505.3" cy="910.7" r="4.2"/>
<circle cx="1510.6" cy="910.7" r="4.2"/>
<circle cx="1515.5" cy="938.6" r="4.2"/>
<circle cx="1561.5" cy="945.2" r="4.2"/>
<circle cx="1565.2" cy="926.8" r="4.2"/>
<circle cx="1570.3" cy="912.7" r="4.2"/>
<circle cx="1575.4" cy="908.3" r="4.2"/>
<circle cx="1580.4" cy="909.6" r="4.2"/>
<circle cx="1584.4" cy="910.7" r="4.2"/>
<circle cx="1589.5" cy="910.7" r="4.2"/>
<circle cx="1594.3" cy="910.7" r="4.2"/>
<circle cx="1599.4" cy="909.6" r="4.2"/>
<circle cx="1604.5" cy="909.6" r="4.2"/>
<circle cx="1609.2" cy="910.7" r="4.2"/>
<circle cx="1614.5" cy="927.7" r="4.2"/>
<circle cx="1617.5" cy="945.2" r="4.2"/>
<circle cx="1661.3" cy="945.3" r="4.2"/>
<circle cx="1664.5" cy="936.6" r="4.2"/>
<circle cx="1669.3" cy="913.7" r="4.2"/>
<circle cx="1674.3" cy="908.3" r="4.2"/>
<circle cx="1679.4" cy="910.7" r="4.2"/>
<circle cx="1684.5" cy="910.7" r="4.2"/>
<circle cx="1688.3" cy="910.7" r="4.2"/>
<circle cx="1693.4" cy="909.7" r="4.2"/>
<circle cx="1698.3" cy="909.7" r="4.2"/>
<circle cx="1703.3" cy="908.6" r="4.2"/>
<circle cx="1708.3" cy="909.7" r="4.2"/>
<circle cx="1713.4" cy="917.6" r="4.2"/>
<circle cx="1716.8" cy="944.3" r="4.2"/>
</g>
<g stroke="#000" stroke-width="1.75" fill="none">
<rect x="354.00" y="59.00" width="1365.00" height="1028.00"/>
<line x1="354.00" y1="106.00" x2="1719.00" y2="106.00"/>
<line x1="354.00" y1="152.00" x2="1719.00" y2="152.00"/>
<line x1="354.00" y1="199.00" x2="1719.00" y2="199.00"/>
<line x1="354.00" y1="246.00" x2="1719.00" y2="246.00"/>
<line x1="354.00" y1="293.00" x2="1719.00" y2="293.00"/>
<line x1="354.00" y1="339.00" x2="1719.00" y2="339.00"/>
<line x1="354.00" y1="386.00" x2="1719.00" y2="386.00"/>
<line x1="354.00" y1="433.00" x2="1719.00" y2="433.00"/>
<line x1="354.00" y1="479.00" x2="1719.00" y2="479.00"/>
<line x1="354.00" y1="526.00" x2="1719.00" y2="526.00"/>
<line x1="354.00" y1="573.00" x2="1719.00" y2="573.00"/>
<line x1="354.00" y1="619.00" x2="1719.00" y2="619.00"/>
<line x1="354.00" y1="666.00" x2="1719.00" y2="666.00"/>
<line x1="354.00" y1="713.00" x2="1719.00" y2="713.00"/>
<line x1="354.00" y1="760.00" x2="1719.00" y2="760.00"/>
<line x1="354.00" y1="806.00" x2="1719.00" y2="806.00"/>
<line x1="354.00" y1="853.00" x2="1719.00" y2="853.00"/>
<line x1="354.00" y1="900.00" x2="1719.00" y2="900.00"/>
<line x1="354.00" y1="946.00" x2="1719.00" y2="946.00"/>
<line x1="354.00" y1="993.00" x2="1719.00" y2="993.00"/>
<line x1="354.00" y1="1040.00" x2="1719.00" y2="1040.00"/>
</g>
<g stroke="#000" stroke-width="1.67">
<line x1="411.00" y1="1087.00" x2="411.00" y2="1094.30"/>
<line x1="530.00" y1="1087.00" x2="530.00" y2="1094.30"/>
<line x1="648.00" y1="1087.00" x2="648.00" y2="1094.30"/>
<line x1="767.00" y1="1087.00" x2="767.00" y2="1094.30"/>
<line x1="886.00" y1="1087.00" x2="886.00" y2="1094.30"/>
<line x1="1005.00" y1="1087.00" x2="1005.00" y2="1094.30"/>
<line x1="1124.00" y1="1087.00" x2="1124.00" y2="1094.30"/>
<line x1="1243.00" y1="1087.00" x2="1243.00" y2="1094.30"/>
<line x1="1361.00" y1="1087.00" x2="1361.00" y2="1094.30"/>
<line x1="1480.00" y1="1087.00" x2="1480.00" y2="1094.30"/>
<line x1="1599.00" y1="1087.00" x2="1599.00" y2="1094.30"/>
<line x1="1718.00" y1="1087.00" x2="1718.00" y2="1094.30"/>
</g>
<g font-size="14.3" text-anchor="middle" fill="#000">
<text x="410.50" y="1111.75">02:00</text>
<text x="529.33" y="1111.75">04:00</text>
<text x="648.16" y="1111.75">06:00</text>
<text x="766.99" y="1111.75">08:00</text>
<text x="885.82" y="1111.75">10:00</text>
<text x="1004.65" y="1111.75">12:00</text>
<text x="1123.48" y="1111.75">14:00</text>
<text x="1242.31" y="1111.75">16:00</text>
<text x="1361.14" y="1111.75">18:00</text>
<text x="1479.97" y="1111.75">20:00</text>
<text x="1598.80" y="1111.75">22:00</text>
<text x="1717.63" y="1111.75">00:00</text>
</g>
<text x="1035.90" y="1140.20" font-size="20.6" text-anchor="middle">2025-10-14</text>
<text x="1037.00" y="47.00" font-size="24.8" text-anchor="middle">SO2___</text>
<g font-size="17.45" text-anchor="end" fill="#000">
<text x="346.2" y="87.41" xml:space="preserve">processing status</text>
<text x="346.2" y="134.14" xml:space="preserve">Status AER AI</text>
<text x="346.2" y="180.86" xml:space="preserve">Status BG</text>
<text x="346.2" y="227.59" xml:space="preserve">status TM5 data</text>
<text x="346.2" y="274.31" xml:space="preserve">Status L2  CLOUD</text>
<text x="346.2" y="321.04" xml:space="preserve">ozone reference</text>
<text x="346.2" y="367.76" xml:space="preserve">Status MET 2D</text>
<text x="346.2" y="414.49" xml:space="preserve">Status NISE</text>
<text x="346.2" y="461.21" xml:space="preserve">reference spectrum</text>
<text x="346.2" y="507.94" xml:space="preserve">processing mode</text>
<text x="346.2" y="554.66" xml:space="preserve">algorithm version</text>
<text x="346.2" y="601.39" xml:space="preserve">orbit</text>
<text x="346.2" y="648.11" xml:space="preserve">processor version</text>
<text x="346.2" y="694.84" xml:space="preserve">product version</text>
<text x="346.2" y="741.56" xml:space="preserve">revision</text>
<text x="346.2" y="788.29" xml:space="preserve">initialization (s)</text>
<text x="346.2" y="835.01" xml:space="preserve">processing (s)</text>
<text x="346.2" y="881.74" xml:space="preserve">time per pixel</text>
<text x="346.2" y="928.46" xml:space="preserve"><tspan font-style="italic">σ</tspan> time per pixel</text>
<text x="346.2" y="975.19" xml:space="preserve">AUX BGSO2</text>
<text x="346.2" y="1021.91" xml:space="preserve">AUX CTMFCT</text>
<text x="346.2" y="1068.64" xml:space="preserve">L1B IR UVN</text>
</g>
<g font-size="14.4" text-anchor="middle" fill="#f0ffff">
<text x="1036.50" y="506.99">Near-realtime</text>
<text x="1036.50" y="552.71">UPAS-SO2-DOAS_LUT-5.2.0</text>
<text x="1036.50" y="647.16">02.07.01</text>
<text x="1036.50" y="693.89">2.1</text>
<text x="1036.50" y="740.61">e296a96546bc7c1017f866c079193cdd4a57be3c</text>
<text x="1032.00" y="974.24">2025-10-08</text>
<text x="1714.50" y="974.24">2025-10-10</text>
<text x="477.55" y="1020.96">2025-10-15</text>
<text x="1160.05" y="1020.96">2025-10-15</text>
<text x="829.00" y="1067.69">41458</text>
<text x="1511.50" y="1067.69">41473</text>
</g>
<g font-size="11.7" text-anchor="middle" fill="#000">
<text x="383.20" y="599.74">41465</text>
<text x="483.70" y="599.74">41466</text>
<text x="583.65" y="599.74">41467</text>
<text x="684.70" y="599.74">41468</text>
<text x="784.70" y="599.74">41469</text>
<text x="885.70" y="599.74">41470</text>
<text x="985.80" y="599.74">41471</text>
<text x="1086.85" y="599.74">41472</text>
<text x="1183.85" y="599.74">41473</text>
<text x="1287.80" y="599.74">41474</text>
<text x="1387.85" y="599.74">41475</text>
<text x="1488.70" y="599.74">41476</text>
<text x="1588.85" y="599.74">41477</text>
<text x="1689.40" y="599.74">41478</text>
</g>
</svg></body></html>
